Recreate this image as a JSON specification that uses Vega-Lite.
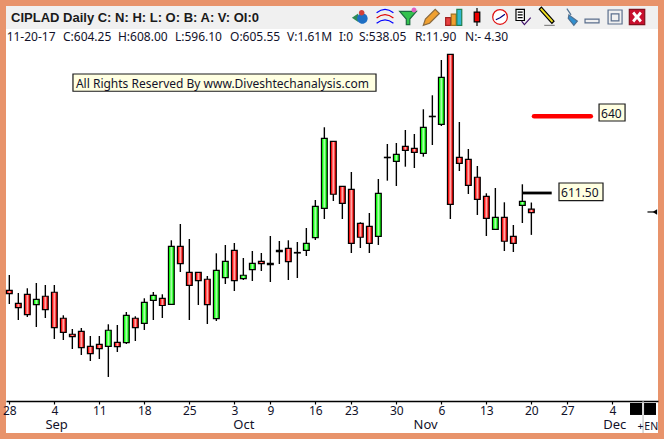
{"$schema":"https://vega.github.io/schema/vega-lite/v6.json","width":652,"height":427,"autosize":{"type":"none"},"padding":{"left":6,"top":6,"right":6,"bottom":6},"background":"#E8936B","view":{"fill":"#FFFFFF","stroke":null},
"config":{"font":"Noto Sans"},
"datasets":{
"candles":[
{"i":0,"high":581.36,"open":575.73,"close":574.48,"low":570.69},
{"i":1,"high":574.74,"open":570.95,"close":569.33,"low":564.81},
{"i":2,"high":576.47,"open":574.26,"close":566.76,"low":565.92},
{"i":3,"high":578.42,"open":570.44,"close":572.42,"low":562.24},
{"i":4,"high":577.68,"open":573.53,"close":568.6,"low":565.55},
{"i":5,"high":577.68,"open":575.0,"close":561.98,"low":557.83},
{"i":6,"high":566.54,"open":565.44,"close":560.29,"low":557.46},
{"i":7,"high":561.5,"open":559.56,"close":558.67,"low":554.15},
{"i":8,"high":561.87,"open":560.66,"close":554.63,"low":551.94},
{"i":9,"high":558.93,"open":555.14,"close":552.42,"low":549.74},
{"i":10,"high":558.93,"open":555.88,"close":554.26,"low":550.47},
{"i":11,"high":563.23,"open":555.14,"close":561.03,"low":543.86},
{"i":12,"high":562.97,"open":556.61,"close":555.0,"low":553.05},
{"i":13,"high":567.75,"open":556.47,"close":566.54,"low":555.99},
{"i":14,"high":566.17,"open":565.44,"close":561.98,"low":557.09},
{"i":15,"high":572.79,"open":563.6,"close":571.32,"low":561.14},
{"i":16,"high":575.11,"open":572.05,"close":573.89,"low":564.81},
{"i":17,"high":574.26,"open":572.72,"close":570.14,"low":565.55},
{"i":18,"high":594.11,"open":570.58,"close":591.91,"low":570.58},
{"i":19,"high":600.11,"open":591.91,"close":585.51,"low":582.46},
{"i":20,"high":594.59,"open":582.35,"close":577.57,"low":564.81},
{"i":21,"high":582.35,"open":582.35,"close":579.26,"low":570.33},
{"i":22,"high":580.99,"open":579.78,"close":570.44,"low":563.34},
{"i":23,"high":589.33,"open":565.29,"close":583.08,"low":564.44},
{"i":24,"high":592.39,"open":580.36,"close":586.39,"low":578.05},
{"i":25,"high":593.12,"open":590.44,"close":579.26,"low":575.47},
{"i":26,"high":587.61,"open":580.0,"close":581.25,"low":579.52},
{"i":27,"high":590.18,"open":583.31,"close":585.66,"low":579.15},
{"i":28,"high":589.44,"open":586.39,"close":585.51,"low":582.83},
{"i":29,"high":595.69,"open":585.66,"close":585.14,"low":578.78},
{"i":30,"high":593.86,"open":590.44,"close":589.92,"low":585.4},
{"i":31,"high":594.11,"open":591.17,"close":586.25,"low":579.52},
{"i":32,"high":593.49,"open":589.63,"close":589.44,"low":580.25},
{"i":33,"high":598.64,"open":590.44,"close":593.01,"low":588.34},
{"i":34,"high":608.93,"open":595.07,"close":606.61,"low":594.22},
{"i":35,"high":635.66,"open":605.88,"close":631.61,"low":601.94},
{"i":36,"high":630.51,"open":630.51,"close":611.03,"low":608.56},
{"i":37,"high":613.97,"open":613.97,"close":607.72,"low":601.94},
{"i":38,"high":619.22,"open":612.86,"close":593.01,"low":589.44},
{"i":39,"high":600.73,"open":600.36,"close":595.22,"low":591.28},
{"i":40,"high":604.15,"open":599.26,"close":593.01,"low":589.44},
{"i":41,"high":616.65,"open":595.58,"close":611.39,"low":592.39},
{"i":42,"high":629.52,"open":624.63,"close":624.48,"low":616.03},
{"i":43,"high":629.89,"open":623.16,"close":625.73,"low":614.08},
{"i":44,"high":634.67,"open":628.67,"close":627.2,"low":621.17},
{"i":45,"high":633.19,"open":627.94,"close":626.47,"low":620.69},
{"i":46,"high":642.28,"open":626.1,"close":635.66,"low":624.85},
{"i":47,"high":647.42,"open":639.7,"close":639.56,"low":629.15},
{"i":48,"high":660.4,"open":636.76,"close":654.04,"low":636.14},
{"i":49,"high":662.5,"open":662.5,"close":607.35,"low":601.94},
{"i":50,"high":637.61,"open":624.63,"close":622.42,"low":619.59},
{"i":51,"high":627.68,"open":623.89,"close":614.33,"low":611.14},
{"i":52,"high":621.43,"open":617.28,"close":609.19,"low":603.42},
{"i":53,"high":611.39,"open":610.29,"close":602.2,"low":595.69},
{"i":54,"high":613.34,"open":598.16,"close":602.57,"low":598.16},
{"i":55,"high":608.08,"open":602.57,"close":593.75,"low":590.18},
{"i":56,"high":599.74,"open":595.58,"close":593.01,"low":589.81},
{"i":57,"high":614.7,"open":606.98,"close":608.45,"low":600.47},
{"i":58,"high":608.0,"open":605.55,"close":604.25,"low":596.1}
],
"ticks":[{"i":0},{"i":5},{"i":10},{"i":15},{"i":20},{"i":25},{"i":29},{"i":34},{"i":38},{"i":43},{"i":48},{"i":53},{"i":58},{"i":62},{"i":67}],
"months":[{"i":5.2},{"i":26},{"i":46.2},{"i":67.2}],
"info":[
{"i":-0.3,"p":667.39,"t":"11-20-17"},
{"i":5.96,"p":667.39,"t":"C:604.25"},
{"i":12.07,"p":667.39,"t":"H:608.00"},
{"i":18.4,"p":667.39,"t":"L:596.10"},
{"i":24.52,"p":667.39,"t":"O:605.55"},
{"i":30.85,"p":667.39,"t":"V:1.61M"},
{"i":36.63,"p":667.39,"t":"I:0"},
{"i":38.85,"p":667.39,"t":"S:538.05"},
{"i":45.07,"p":667.39,"t":"R:11.90"},
{"i":50.63,"p":667.39,"t":"N:- 4.30"},
{"i":7.4,"p":650.1,"t":"All Rights Reserved By www.Diveshtechanalysis.com"},
{"i":65.74,"p":639.08,"t":"640"},
{"i":61.3,"p":609.92,"t":"611.50"}
],
"boxes":[
{"i":7.07,"i2":40.74,"p":655.25,"p2":648.9},
{"i":65.52,"i2":68.41,"p":644.22,"p2":637.97},
{"i":61.07,"i2":65.96,"p":615.18,"p2":608.67}
],
"icons":[
{"i":39.07,"p":676.21,"part":"arrow"},{"i":39.07,"p":676.21,"part":"globe"},{"i":39.07,"p":676.21,"part":"ball"},
{"i":41.74,"p":676.21,"part":"arcBlue"},{"i":41.74,"p":676.21,"part":"arcRed"},
{"i":44.3,"p":676.21,"part":"funnel"},{"i":44.3,"p":676.21,"part":"ball2"},
{"i":46.85,"p":676.21,"part":"pencil"},
{"i":49.41,"p":676.21,"part":"bar1"},{"i":49.41,"p":676.21,"part":"bar2"},{"i":49.41,"p":676.21,"part":"bar3"},
{"i":51.96,"p":676.21,"part":"wick"},{"i":51.96,"p":676.21,"part":"body"},
{"i":54.52,"p":676.21,"part":"clock"},{"i":54.52,"p":676.21,"part":"hands"},
{"i":57.07,"p":676.21,"part":"list"},{"i":57.07,"p":676.21,"part":"check"},
{"i":59.74,"p":676.21,"part":"yellow"},{"i":59.74,"p":676.21,"part":"under"},
{"i":62.41,"p":676.21,"part":"pin"},
{"i":64.74,"p":676.21,"part":"min"},
{"i":67.3,"p":676.21,"part":"maxOuter"},{"i":67.3,"p":676.21,"part":"maxInner"},
{"i":69.74,"p":676.21,"part":"close"},{"i":69.74,"p":676.21,"part":"cross"}
]
},
"encoding":{
"x":{"field":"i","type":"quantitative","scale":{"domain":[-0.37,72.07],"nice":false,"zero":false,"padding":0},"axis":null},
"y":{"field":"p","type":"quantitative","scale":{"domain":[523.26,680.25],"nice":false,"zero":false,"padding":0},"axis":null}
},
"resolve":{"axis":{"x":"independent","y":"independent"}},
"layer":[
{"data":{"values":[{"i":-0.37,"i2":72.07,"p":680.25,"p2":671.8}]},"mark":{"type":"rect","fill":"#F0F0F0"},"encoding":{"x2":{"field":"i2"},"y2":{"field":"p2"}}},
{"data":{"name":"ticks"},"mark":{"type":"point","opacity":0},"encoding":{"y":{"datum":600},"x":{"field":"i","type":"quantitative","scale":{"domain":[-0.37,72.07],"nice":false,"zero":false,"padding":0},"axis":{"values":[0,5,10,15,20,25,29,34,38,43,48,53,58,62,67],"labelExpr":"['28','4','11','18','25','3','9','16','23','30','6','13','20','27','4'][indexof([0,5,10,15,20,25,29,34,38,43,48,53,58,62,67],datum.value)]","offset":-32,"orient":"bottom","title":null,"grid":false,"domainColor":"#000000","domainWidth":1.3,"tickColor":"#000000","tickSize":3,"tickWidth":1.2,"labelColor":"#12122A","labelFont":"Noto Sans","labelFontSize":12,"labelPadding":1,"labelFlush":false,"labelOverlap":false,"labelBound":false}}}},
{"data":{"name":"months"},"mark":{"type":"point","opacity":0},"encoding":{"y":{"datum":600},"x":{"field":"i","type":"quantitative","scale":{"domain":[-0.37,72.07],"nice":false,"zero":false,"padding":0},"axis":{"values":[5.2,26,46.2,67.2],"labelExpr":"['Sep','Oct','Nov','Dec'][indexof([5.2,26,46.2,67.2],datum.value)]","offset":-32,"orient":"bottom","title":null,"grid":false,"domain":false,"ticks":false,"labelColor":"#12122A","labelFont":"Noto Sans","labelFontSize":13,"labelPadding":17,"labelFlush":false,"labelOverlap":false,"labelBound":false}}}},
{"data":{"name":"candles"},"mark":{"type":"rule","color":"#000000","strokeWidth":1.4},"encoding":{"y":{"field":"high","type":"quantitative","scale":{"domain":[523.26,680.25],"nice":false,"zero":false,"padding":0},"axis":null},"y2":{"field":"low"}}},
{"data":{"name":"candles"},"transform":[{"filter":"datum.close<=datum.open"}],"mark":{"type":"bar","orient":"vertical","size":5.8,"stroke":"#000000","strokeWidth":1.2,"fill":{"gradient":"linear","x1":0,"x2":1,"y1":0,"y2":0,"stops":[{"offset":0,"color":"#FF0000"},{"offset":0.15,"color":"#FF0000"},{"offset":0.5,"color":"#FFB4B4"},{"offset":0.85,"color":"#FF0000"},{"offset":1,"color":"#FF0000"}]}},"encoding":{"y":{"field":"open","type":"quantitative","scale":{"domain":[523.26,680.25],"nice":false,"zero":false,"padding":0},"axis":null},"y2":{"field":"close"}}},
{"data":{"name":"candles"},"transform":[{"filter":"datum.close>datum.open"}],"mark":{"type":"bar","orient":"vertical","size":5.8,"stroke":"#000000","strokeWidth":1.2,"fill":{"gradient":"linear","x1":0,"x2":1,"y1":0,"y2":0,"stops":[{"offset":0,"color":"#00FF00"},{"offset":0.15,"color":"#00FF00"},{"offset":0.5,"color":"#B4FFB4"},{"offset":0.85,"color":"#00FF00"},{"offset":1,"color":"#00FF00"}]}},"encoding":{"y":{"field":"open","type":"quantitative","scale":{"domain":[523.26,680.25],"nice":false,"zero":false,"padding":0},"axis":null},"y2":{"field":"close"}}},
{"data":{"values":[{"i":58.3,"i2":64.6,"p":639.7}]},"mark":{"type":"rule","color":"#FF0000","strokeWidth":4.6,"strokeCap":"round"},"encoding":{"x2":{"field":"i2"}}},
{"data":{"values":[{"i":57,"i2":60.26,"p":611.5}]},"mark":{"type":"rule","color":"#000000","strokeWidth":2.8},"encoding":{"x2":{"field":"i2"}}},
{"data":{"values":[{"i":70.9,"i2":71.6,"p":604.52}]},"mark":{"type":"rule","color":"#000000","strokeWidth":1.2},"encoding":{"x2":{"field":"i2"}}},
{"data":{"values":[{"i":71.72,"p":604.52}]},"mark":{"type":"point","shape":"triangle-left","filled":true,"color":"#000000","size":28,"opacity":1}},
{"data":{"name":"boxes"},"mark":{"type":"rect","fill":"#FFFFE1","stroke":"#1A1A1A","strokeWidth":1.2},"encoding":{"x2":{"field":"i2"},"y2":{"field":"p2"}}},
{"data":{"values":[{"i":0.19,"p":674.37,"t":"CIPLAD Daily C: N: H: L: O: B: A: V: OI:0"}]},"mark":{"type":"text","align":"left","baseline":"alphabetic","font":"Liberation Sans","fontSize":13,"fontWeight":"bold","color":"#1A1A1A"},"encoding":{"text":{"field":"t"}}},
{"data":{"name":"info"},"mark":{"type":"text","align":"left","baseline":"alphabetic","font":"Noto Sans","fontSize":12,"color":"#12122A"},"encoding":{"text":{"field":"t"}}},
{"data":{"values":[{"i":68.96,"i2":70.3,"p":534.3,"p2":529.89},{"i":70.52,"i2":71.85,"p":534.3,"p2":529.89}]},"mark":{"type":"rect","fill":"#000000"},"encoding":{"x2":{"field":"i2"},"y2":{"field":"p2"}}},
{"data":{"values":[{"i":70.41,"p":535.03,"p2":523.26}]},"mark":{"type":"rule","color":"#B8B8B8","strokeWidth":1},"encoding":{"y2":{"field":"p2"}}},
{"data":{"values":[{"i":69.8,"p":524.37,"t":"+"},{"i":70.55,"p":524.37,"t":"EN"}]},"mark":{"type":"text","align":"left","baseline":"alphabetic","font":"Noto Sans","fontSize":10.5,"color":"#12122A"},"encoding":{"text":{"field":"t"}}},
{"data":{"name":"icons"},"mark":{"type":"point","filled":false,"size":196,"strokeWidth":1.2,"opacity":1},"encoding":{
"shape":{"field":"part","type":"nominal","legend":null,"scale":{"domain":["arrow","globe","ball","arcBlue","arcRed","funnel","ball2","pencil","bar1","bar2","bar3","wick","body","clock","hands","list","check","yellow","under","pin","min","maxOuter","maxInner","close","cross"],"range":[
"M-1.3,0.1 L-0.4,-0.5 L-0.4,0.7 Z",
"M-0.55,0.2 a0.75,0.75 0 1,0 1.5,0 a0.75,0.75 0 1,0 -1.5,0",
"M-0.3,-0.6 a0.4,0.4 0 1,0 0.8,0 a0.4,0.4 0 1,0 -0.8,0",
"M-1.2,-0.6 Q0,-1.6 1.2,-0.6 M-1.2,0.9 Q0,-0.1 1.2,0.9",
"M-1.2,0.15 Q0,-0.85 1.2,0.15",
"M-1.2,-0.8 L1.2,-0.8 L0.25,0.3 L0.25,1.1 L-0.25,1.1 L-0.25,0.3 Z",
"M0.5,-1 a0.35,0.35 0 1,0 0.7,0 a0.35,0.35 0 1,0 -0.7,0",
"M-1.1,1.2 L-0.8,0.3 L0.6,-1.1 L1.2,-0.5 L-0.2,0.9 Z",
"M-1.2,0.1 h0.7 v1.1 h-0.7 z",
"M-0.4,-0.4 h0.7 v1.6 h-0.7 z",
"M0.4,-1.1 h0.7 v2.3 h-0.7 z",
"M0,-1.3 L0,1.3",
"M-0.4,-0.7 h0.8 v1.4 h-0.8 z",
"M-1.05,0 a1.05,1.05 0 1,0 2.1,0 a1.05,1.05 0 1,0 -2.1,0",
"M0,0.1 L0.7,-0.4 M0,0.1 L-0.6,0.4",
"M-1,-1.1 h1.2 v1.6 h-1.2 z M-0.75,-0.7 h0.7 M-0.75,-0.3 h0.7 M-0.75,0.1 h0.7",
"M-0.2,0.6 L0.2,1.1 L1.1,0.1",
"M-1.1,-1.1 L-0.8,-1.4 L1,0.6 L0.7,0.9 Z",
"M-0.4,1.2 H1.1",
"M-0.6,-1.2 L0,-0.3 M-0.3,-0.3 L0.9,0.6 L0.4,1.2 L-0.4,0.2 Z",
"M-1,0.3 h2 v0.55 h-2 z",
"M-1,-1 h2 v2 h-2 z",
"M-0.55,-0.45 h1.1 v1 h-1.1 z",
"M-1.1,-1.1 h2.2 v2.2 h-2.2 z",
"M-0.7,-0.5 L-0.4,-0.8 L0,-0.3 L0.4,-0.8 L0.7,-0.5 L0.3,0 L0.7,0.5 L0.4,0.8 L0,0.3 L-0.4,0.8 L-0.7,0.5 L-0.3,0 Z"
]}},
"fill":{"field":"part","type":"nominal","legend":null,"scale":{"domain":["arrow","globe","ball","arcBlue","arcRed","funnel","ball2","pencil","bar1","bar2","bar3","wick","body","clock","hands","list","check","yellow","under","pin","min","maxOuter","maxInner","close","cross"],"range":["#2E8B57","#1E6FC4","#D0403A","transparent","transparent","#33C24D","#E060C0","#F0A030","#E84040","#F0A030","#30B8D0","transparent","#EE0000","#FFFFFF","transparent","#FFFFFF","transparent","#F0E020","transparent","#3090D0","#F0F0F0","#F0F0F0","#F0F0F0","#C8102E","#FFFFFF"]}},
"stroke":{"field":"part","type":"nominal","legend":null,"scale":{"domain":["arrow","globe","ball","arcBlue","arcRed","funnel","ball2","pencil","bar1","bar2","bar3","wick","body","clock","hands","list","check","yellow","under","pin","min","maxOuter","maxInner","close","cross"],"range":["transparent","transparent","transparent","#0000FF","#E00000","#1E6B40","transparent","#8A6A40","#A02020","#A07020","#208050","#000000","#000000","#E01010","#000080","#000000","#40106A","#000000","#888888","#507090","#5A6E8C","#5A6E8C","#5A6E8C","#80101C","transparent"]}}
}}
]}
